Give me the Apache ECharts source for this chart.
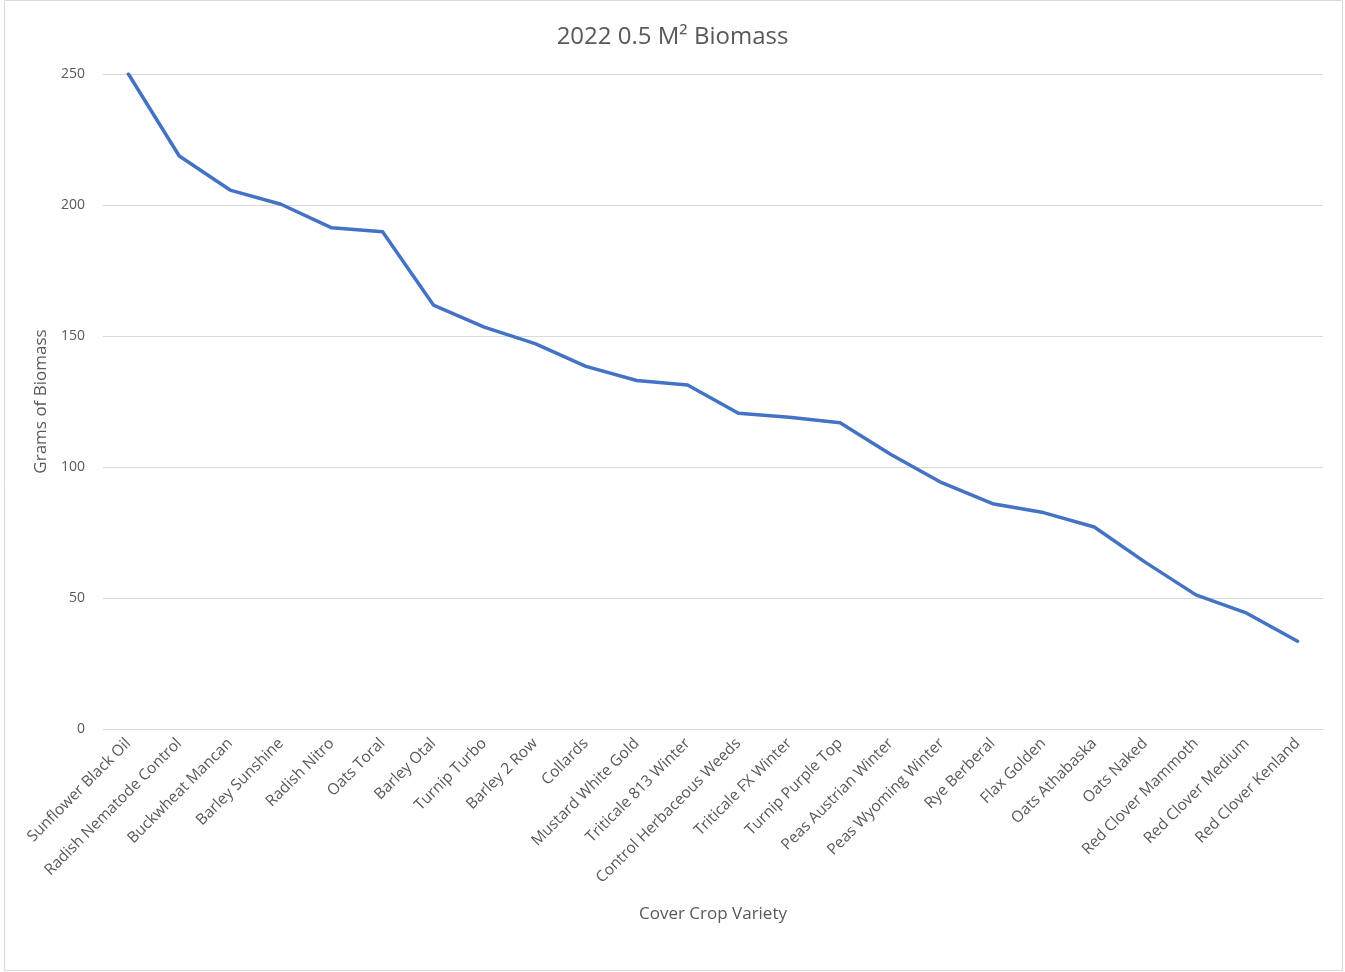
<!DOCTYPE html>
<html><head><meta charset="utf-8">
<script src="https://cdn.jsdelivr.net/npm/echarts@6/dist/echarts.min.js"></script>
<style>html,body{margin:0;padding:0;background:#fff}#c{width:1345px;height:972px}</style>
</head><body><div id="c"></div>
<script>
const categories = ["Sunflower Black Oil","Radish Nematode Control","Buckwheat Mancan","Barley Sunshine","Radish Nitro","Oats Toral","Barley Otal","Turnip Turbo","Barley 2 Row","Collards","Mustard White Gold","Triticale 813 Winter","Control Herbaceous Weeds","Triticale FX Winter","Turnip Purple Top","Peas Austrian Winter","Peas Wyoming Winter","Rye Berberal","Flax Golden","Oats Athabaska","Oats Naked","Red Clover Mammoth","Red Clover Medium","Red Clover Kenland"];
const biomass = [250,218.7,205.7,200.3,191.3,189.8,161.8,153.4,147.1,138.4,133.0,131.3,120.5,119.0,116.9,104.8,94.0,86.0,82.6,77.1,63.7,51.2,44.2,33.5];
const yTicks = {min:0, max:250, interval:50};
const font = "'Open Sans', 'Noto Sans', sans-serif";
const chart = echarts.init(document.getElementById('c'));
chart.setOption({
  animation:false,
  title:{text:'2022 0.5 M² Biomass', left:'center', top:20, textStyle:{fontFamily:font, fontSize:24, fontWeight:'normal', color:'#595959'}},
  graphic:[{type:'rect', shape:{x:4.5,y:0.5,width:1338,height:970}, style:{fill:'none', stroke:'#d9d9d9', lineWidth:1}, silent:true}],
  grid:{left:103, right:22, top:74, bottom:243},
  xAxis:{type:'category', data:categories, boundaryGap:true,
    name:'Cover Crop Variety', nameLocation:'middle', nameGap:177,
    nameTextStyle:{fontFamily:font, fontSize:17, color:'#595959'},
    axisLine:{show:true, lineStyle:{color:'#d9d9d9'}}, axisTick:{show:false},
    axisLabel:{rotate:45, interval:0, margin:12, fontFamily:font, fontSize:15.5, color:'#595959'}},
  yAxis:{type:'value', min:yTicks.min, max:yTicks.max, interval:yTicks.interval,
    name:'Grams of Biomass', nameLocation:'middle', nameGap:52, nameRotate:90,
    nameTextStyle:{fontFamily:font, fontSize:17, color:'#595959'},
    axisLine:{show:false}, axisTick:{show:false},
    splitLine:{lineStyle:{color:'#d9d9d9'}},
    axisLabel:{margin:18, fontFamily:font, fontSize:14, color:'#595959'}},
  series:[{type:'line', data:biomass, showSymbol:false, symbol:'none',
    lineStyle:{color:'#4472C4', width:3.5, cap:'round', join:'round'}}]
});
</script></body></html>
